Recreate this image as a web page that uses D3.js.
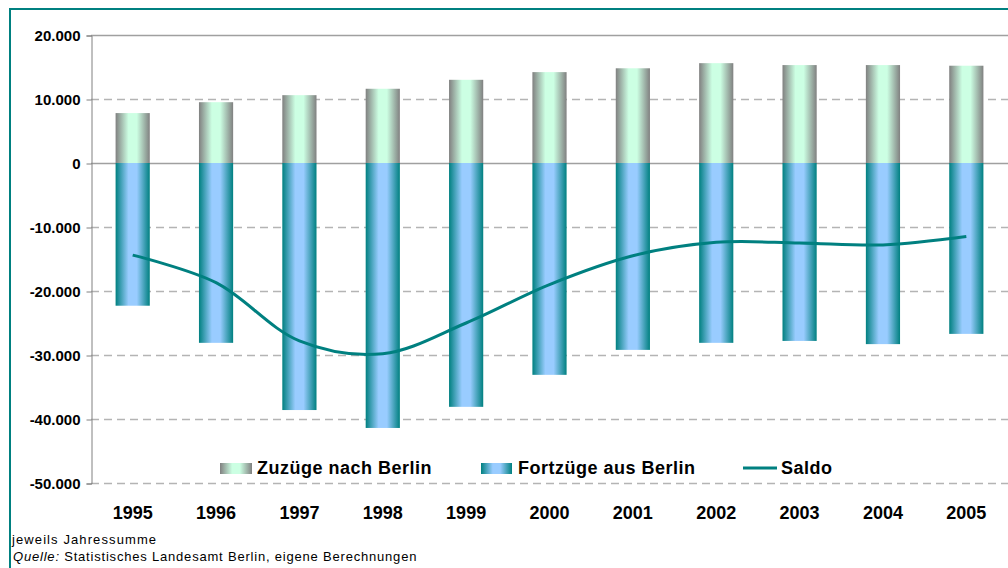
<!DOCTYPE html>
<html>
<head>
<meta charset="utf-8">
<script src="https://cdn.jsdelivr.net/npm/d3@7"></script>
<style>
  body { margin: 0; background: #fff; }
  svg { display: block; font-family: "Liberation Sans", Arial, sans-serif; }
</style>
</head>
<body>
<div id="chart"></div>
<script>
// data
var years = ['1995','1996','1997','1998','1999','2000','2001','2002','2003','2004','2005']
var zuzuege = [7800, 9500, 10600, 11600, 13000, 14200, 14800, 15600, 15300, 15300, 15200]
var fortzuege = [-22300, -28100, -38600, -41400, -38100, -33100, -29200, -28100, -27800, -28300, -26700]
var saldo = [-14400, -18700, -27800, -29800, -25000, -19000, -14500, -12400, -12500, -12800, -11500]
var yTicks = [20000, 10000, 0, -10000, -20000, -30000, -40000, -50000]

var W = 1008, H = 568
var plotLeft = 91, plotRight = 1008, plotTop = 35, plotBottom = 483

var fmt = d3.formatLocale({decimal: ',', thousands: '.', grouping: [3], currency: ['', ' €'], minus: '-'}).format(',d')

var svg = d3.select('#chart').append('svg').attr('width', W).attr('height', H)

var defs = svg.append('defs')
function grad(id, edge, mid) {
  var g = defs.append('linearGradient').attr('id', id)
    .attr('x1', 0).attr('x2', 1).attr('y1', 0).attr('y2', 0)
  g.append('stop').attr('offset', 0).attr('stop-color', edge)
  g.append('stop').attr('offset', 0.38).attr('stop-color', mid)
  g.append('stop').attr('offset', 0.62).attr('stop-color', mid)
  g.append('stop').attr('offset', 1).attr('stop-color', edge)
}
grad('gZu', '#808080', '#CCFFE3')
grad('gFort', '#008080', '#99CCFF')

// outer frame (cut off at right and bottom)
svg.append('path').attr('d', 'M10,' + (H + 5) + 'V9H' + (W + 5))
  .attr('fill', 'none').attr('stroke', '#008080').attr('stroke-width', 2)

var x = d3.scaleBand().domain(years).range([plotLeft, plotRight]).paddingInner(0.59).paddingOuter(0.295)
var y = d3.scaleLinear().domain([-50000, 20000]).range([plotBottom, plotTop])

// grid lines
svg.append('g').selectAll('line').data(yTicks).enter().append('line')
  .attr('x1', plotLeft).attr('x2', plotRight)
  .attr('y1', function(d) { return y(d) + 0.5 }).attr('y2', function(d) { return y(d) + 0.5 })
  .attr('stroke', function(d) { return d == 0 || d == 20000 ? '#A0A0A0' : '#B4B4B4' })
  .attr('stroke-width', 1.5)
  .attr('stroke-dasharray', function(d) { return d == 0 || d == 20000 ? null : '8,5' })

// y axis
var yAxis = d3.axisLeft(y).tickValues(yTicks).tickFormat(fmt).tickSize(5).tickPadding(6)
var ga = svg.append('g').attr('transform', 'translate(' + (plotLeft + 0.5) + ',0.5)').call(yAxis)
ga.select('.domain').attr('stroke', '#808080')
ga.selectAll('.tick line').attr('stroke', '#808080')
ga.selectAll('text').attr('font-size', 15).attr('font-weight', 'bold').attr('fill', '#000')
  .attr('font-family', '"Liberation Sans", Arial, sans-serif')

// bars
svg.append('g').selectAll('rect').data(zuzuege).enter().append('rect')
  .attr('x', function(d, i) { return x(years[i]) })
  .attr('width', x.bandwidth())
  .attr('y', function(d) { return y(d) })
  .attr('height', function(d) { return y(0) - y(d) })
  .attr('fill', 'url(#gZu)')

svg.append('g').selectAll('rect').data(fortzuege).enter().append('rect')
  .attr('x', function(d, i) { return x(years[i]) })
  .attr('width', x.bandwidth())
  .attr('y', y(0))
  .attr('height', function(d) { return y(d) - y(0) })
  .attr('fill', 'url(#gFort)')

// saldo line
var line = d3.line()
  .x(function(d, i) { return x(years[i]) + x.bandwidth() / 2 })
  .y(function(d) { return y(d) })
  .curve(d3.curveCatmullRom.alpha(0.5))
svg.append('path').datum(saldo).attr('d', line)
  .attr('fill', 'none').attr('stroke', '#008080').attr('stroke-width', 3)

// x labels
svg.append('g').selectAll('text').data(years).enter().append('text')
  .attr('x', function(d) { return x(d) + x.bandwidth() / 2 })
  .attr('y', 519)
  .attr('text-anchor', 'middle')
  .attr('font-size', 18).attr('font-weight', 'bold')
  .text(function(d) { return d })

// legend
var legend = svg.append('g').attr('font-size', 18).attr('font-weight', 'bold').attr('letter-spacing', 0.5)
legend.append('rect').attr('x', 220).attr('y', 463).attr('width', 32).attr('height', 11).attr('fill', 'url(#gZu)')
legend.append('text').attr('x', 257).attr('y', 474).text('Zuzüge nach Berlin')
legend.append('rect').attr('x', 481).attr('y', 463).attr('width', 31).attr('height', 11).attr('fill', 'url(#gFort)')
legend.append('text').attr('x', 518).attr('y', 474).text('Fortzüge aus Berlin')
legend.append('line').attr('x1', 743).attr('x2', 777).attr('y1', 468).attr('y2', 468)
  .attr('stroke', '#008080').attr('stroke-width', 3)
legend.append('text').attr('x', 781).attr('y', 474).text('Saldo')

// footnotes
svg.append('text').attr('x', 12).attr('y', 544).attr('font-size', 13).attr('letter-spacing', 1.1)
  .text('jeweils Jahressumme')
var src = svg.append('text').attr('x', 13).attr('y', 561).attr('font-size', 13).attr('letter-spacing', 0.8)
src.append('tspan').attr('font-style', 'italic').text('Quelle:')
src.append('tspan').text(' Statistisches Landesamt Berlin, eigene Berechnungen')
</script>
</body>
</html>
